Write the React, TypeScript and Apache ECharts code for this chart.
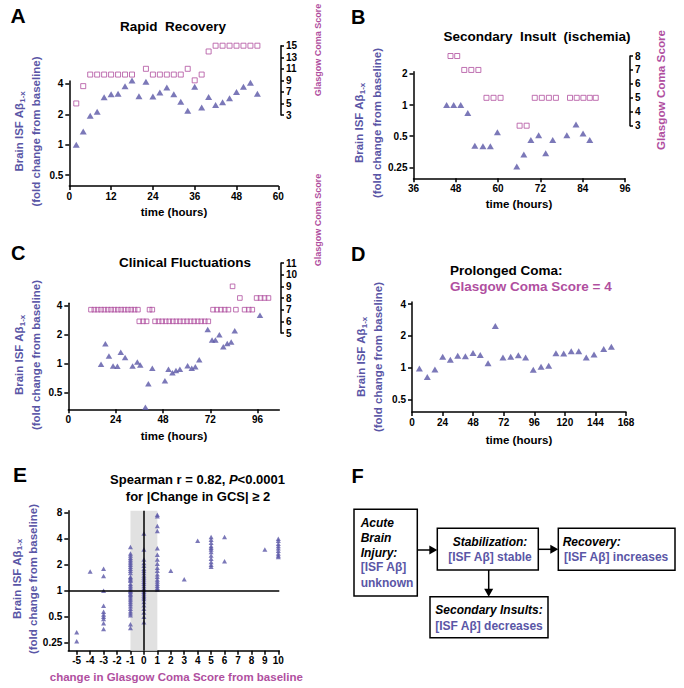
import React, { useEffect, useRef } from 'react';
import * as echarts from 'echarts';

const PURPLE = '#5a56a6';
const MAGENTA = '#b04f9f';
const FONT = '"Liberation Sans", Arial, Helvetica, sans-serif';

// ---------- Panel A: Rapid Recovery ----------
const aTimes = [2, 4, 6, 8, 10, 12, 14, 16, 18, 20, 22, 24, 26, 28, 30, 32, 34, 36, 38, 40, 42, 44, 46, 48, 50, 52, 54];
const aAbeta = [1.0, 1.35, 1.94, 2.12, 2.95, 3.16, 3.2, 3.79, 4.32, 3.02, 4.2, 3.0, 3.3, 3.7, 3.16, 2.67, 2.17, 3.76, 2.33, 2.97, 2.47, 2.64, 2.88, 3.33, 3.76, 4.12, 3.2];
const aGcsTimes = [2, 4, 6, 8, 10, 12, 14, 16, 18, 22, 24, 26, 28, 30, 32, 34, 36, 38, 40, 42, 44, 46, 48, 50, 52, 54];
const aGcs = [5, 8, 10, 10, 10, 10, 10, 10, 10, 11, 10, 10, 10, 10, 10, 11, 9, 10, 14, 15, 15, 15, 15, 15, 15, 15];
const aTimeTicks = [0, 12, 24, 36, 48, 60];
const aAbetaTicks = [0.5, 1, 2, 4];
const aGcsTicks = [3, 5, 7, 9, 11, 13, 15];

// ---------- Panel B: Secondary Insult (ischemia) ----------
const bTimes = [45.4, 47.4, 49.4, 51.4, 53.4, 55.7, 57.8, 59.8, 65.3, 67.3, 69.3, 71.5, 73.5, 75.5, 79.5, 82.1, 84.1, 86];
const bAbeta = [1.0, 1.0, 1.0, 0.84, 0.405, 0.4, 0.4, 0.545, 0.255, 0.332, 0.46, 0.51, 0.342, 0.46, 0.51, 0.65, 0.53, 0.46];
const bGcsTimes = [46.5, 48.4, 50.4, 52.4, 54.4, 56.7, 58.7, 60.7, 66.1, 68.1, 70.4, 72.4, 74.4, 76.4, 80.4, 82.3, 84.2, 86, 87.7];
const bGcs = [8, 8, 7, 7, 7, 5, 5, 5, 3, 3, 5, 5, 5, 5, 5, 5, 5, 5, 5];
const bTimeTicks = [36, 48, 60, 72, 84, 96];
const bAbetaTicks = [0.25, 0.5, 1, 2];
const bGcsTicks = [3, 4, 5, 6, 7, 8];

// ---------- Panel C: Clinical Fluctuations ----------
const cTimes = [16.6, 18.8, 20.6, 22.7, 24.9, 26.6, 28.8, 32.6, 35, 36.5, 39.1, 40.6, 42.6, 49, 50.8, 52.8, 54.6, 56.6, 60.5, 62.6, 64.4, 66.4, 70.7, 72.9, 74.6, 76.6, 78.6, 80.6, 82.6, 84.4, 97.2];
const cAbeta = [0.98, 1.6, 1.19, 0.94, 0.93, 1.3, 1.15, 0.94, 1.03, 0.96, 0.35, 0.615, 0.89, 0.66, 0.866, 0.8, 0.84, 0.87, 0.945, 0.89, 0.92, 1.09, 2.25, 1.75, 1.75, 1.98, 1.49, 1.61, 1.66, 2.18, 3.15];
const cGcsTimes = [
  11.5, 13.2, 14.9, 16.6, 18.3, 20, 21.7, 23.4, 25.1, 26.8, 28.5, 30.2, 31.9, 33.6, 35.3,
  36, 37.9, 39.7, 41.2, 42.6,
  44, 45.8, 47.6, 49.4, 51.2, 53, 54.8, 56.6, 58.4, 60.2, 62, 63.8, 65.6, 67.4, 69.2, 71,
  73.4, 75.4, 77.4, 79.3, 81.2, 83.3, 85, 87, 89.4, 91.5, 93.3, 95.5, 97.5, 99.5, 101.5,
];
const cGcs = [
  7, 7, 7, 7, 7, 7, 7, 7, 7, 7, 7, 7, 7, 7, 7,
  6, 6, 6, 7, 7,
  6, 6, 6, 6, 6, 6, 6, 6, 6, 6, 6, 6, 6, 6, 6, 6,
  7, 7, 7, 7, 7, 9, 7, 8, 7, 7, 7, 8, 8, 8, 8,
];
const cTimeTicks = [0, 24, 48, 72, 96];
const cAbetaTicks = [0.5, 1, 2, 4];
const cGcsTicks = [5, 6, 7, 8, 9, 10, 11];

// ---------- Panel D: Prolonged Coma ----------
const dTimes = [5.8, 12, 18, 24.1, 30.1, 35.9, 41.9, 47.9, 53.6, 59.7, 65.4, 71.4, 77.5, 83.5, 89.2, 95.2, 101.3, 107.3, 113, 119.1, 125, 130.9, 136.8, 142.9, 150.5, 156.5];
const dAbeta = [0.98, 0.815, 0.96, 1.27, 1.19, 1.3, 1.28, 1.38, 1.32, 1.1, 2.49, 1.245, 1.27, 1.31, 1.245, 0.957, 1.02, 1.04, 1.37, 1.36, 1.43, 1.43, 1.245, 1.33, 1.5, 1.58];
const dTimeTicks = [0, 24, 48, 72, 96, 120, 144, 168];
const dAbetaTicks = [0.5, 1, 2, 4];

// ---------- Panel E: change in GCS vs Abeta ----------
const eChange = [-5, -4, -3, -1, 0, 1, 2, 3, 4, 5, 6, 9, 10];
const eAbetaByChange = [
  [0.33, 0.26],
  [1.67],
  [1.8, 1.48, 1.0, 0.67, 0.57, 0.53, 0.5, 0.47, 0.42, 0.36],
  [3.2, 2.7, 2.55, 2.4, 2.3, 2.2, 2.1, 2.0, 1.9, 1.8, 1.7, 1.6, 1.45, 1.4, 1.35, 1.3, 1.2, 1.15, 1.1, 1.05, 1.0, 0.97, 0.93, 0.9, 0.86, 0.82, 0.78, 0.74, 0.7, 0.66, 0.62, 0.58, 0.55, 0.52, 0.41, 0.37],
  [4.6, 3.0, 2.3, 2.1, 1.95, 1.8, 1.7, 1.6, 1.5, 1.42, 1.35, 1.27, 1.2, 1.13, 1.07, 1.02, 0.97, 0.93, 0.88, 0.84, 0.8, 0.74, 0.68, 0.62, 0.56, 0.5, 0.43],
  [7.6, 7.3, 5.6, 4.9, 3.1, 2.6, 2.3, 2.05, 1.85, 1.7, 1.55, 1.45, 1.35, 1.28, 1.2, 1.14, 1.08, 1.03],
  [1.7],
  [1.36],
  [3.8],
  [4.2, 3.9, 3.6, 3.3, 3.15, 3.0, 2.8, 2.55, 2.35, 2.15, 2.0, 1.9],
  [4.2, 2.2],
  [3.0],
  [4.0, 3.8, 3.5, 3.3, 3.1, 2.9, 2.7, 2.55, 2.45],
];
const eChangeTicks = [-5, -4, -3, -2, -1, 0, 1, 2, 3, 4, 5, 6, 7, 8, 9, 10];
const eAbetaTicks = [0.25, 0.5, 1, 2, 4, 8];

// ---------- helpers ----------
const zip = (xs: number[], ys: number[]) => xs.map((x, i) => [x, ys[i]]);
const fmt = (v: number) => String(Number(Number(v).toPrecision(4)));

const axisLine = { show: true, onZero: false, lineStyle: { color: '#000', width: 1.5 } };
const tick = (vals: number[], len = 4) => ({ show: true, inside: false, length: len, lineStyle: { color: '#000', width: 1.5 }, customValues: vals });
const label = (vals: number[], margin: number, size = 10) => ({
  show: true, color: '#000', fontWeight: 'bold', fontSize: size, fontFamily: FONT, margin, customValues: vals,
  formatter: (v: number) => fmt(v),
});

function xAx(grid: number, min: number, max: number, ticks: number[] | null) {
  if (!ticks) return { gridIndex: grid, type: 'value', min, max, show: false };
  return {
    gridIndex: grid, type: 'value', min, max,
    axisLine, axisTick: tick(ticks), axisLabel: label(ticks, 5), splitLine: { show: false },
  };
}
function yLog(grid: number, min: number, max: number, ticks: number[]) {
  return {
    gridIndex: grid, type: 'log', logBase: 2, min, max,
    axisLine, axisTick: tick(ticks), axisLabel: label(ticks, 6), splitLine: { show: false }, minorTick: { show: false },
  };
}
function yGcs(grid: number, min: number, max: number, ticks: number[], offset: number) {
  return {
    gridIndex: grid, type: 'value', position: 'right', offset, min, max,
    axisLine, axisTick: tick(ticks, 3), axisLabel: label(ticks, 5), splitLine: { show: false },
  };
}
function tri(idx: number, data: number[][], size: number[] = [7, 6]) {
  return {
    type: 'scatter', xAxisIndex: idx, yAxisIndex: idx, data, symbol: 'triangle', symbolSize: size,
    itemStyle: { color: PURPLE }, clip: false, silent: true,
  };
}
function sq(idx: number, data: number[][], size = 5) {
  return {
    type: 'scatter', xAxisIndex: idx, yAxisIndex: idx, data, symbol: 'rect', symbolSize: size,
    itemStyle: { color: 'rgba(0,0,0,0)', borderColor: MAGENTA, borderWidth: 1 }, clip: false, silent: true,
  };
}

const font = (size: number, weight = 'bold', italic = false) => `${italic ? 'italic ' : ''}${weight} ${size}px ${FONT}`;
function txt(x: number, y: number, text: string, size: number, o: any = {}) {
  return {
    type: 'text', x, y, rotation: o.rot || 0, silent: true, z: 10,
    style: {
      text, font: font(size, o.weight || 'bold', !!o.italic), fill: o.color || '#000',
      textAlign: o.align || 'center', textVerticalAlign: 'middle',
    },
  };
}
function yTitle(x1: number, x2: number, cy: number, size = 11.5) {
  return [
    {
      type: 'text', x: x1, y: cy, rotation: Math.PI / 2, silent: true, z: 10,
      style: {
        text: '{a|Brain ISF Aβ}{s|1-x}', textAlign: 'center', textVerticalAlign: 'middle',
        rich: {
          a: { font: font(size), fill: PURPLE, lineHeight: 14 },
          s: { font: font(size * 0.7), fill: PURPLE, lineHeight: 6, verticalAlign: 'bottom' },
        },
      },
    },
    txt(x2, cy, '(fold change from baseline)', size, { rot: Math.PI / 2, color: PURPLE }),
  ];
}
function rect(x: number, y: number, w: number, h: number) {
  return { type: 'rect', shape: { x, y, width: w, height: h }, style: { fill: '#fff', stroke: '#000', lineWidth: 1.5 }, silent: true };
}
function arrowR(x1: number, x2: number, y: number) {
  return [
    { type: 'line', shape: { x1, y1: y, x2: x2 - 7, y2: y }, style: { stroke: '#000', lineWidth: 1.5 }, silent: true },
    { type: 'polygon', shape: { points: [[x2 - 8, y - 4.5], [x2, y], [x2 - 8, y + 4.5]] }, style: { fill: '#000' }, silent: true },
  ];
}
function arrowD(x: number, y1: number, y2: number) {
  return [
    { type: 'line', shape: { x1: x, y1, x2: x, y2: y2 - 7 }, style: { stroke: '#000', lineWidth: 1.5 }, silent: true },
    { type: 'polygon', shape: { points: [[x - 4.5, y2 - 8], [x, y2], [x + 4.5, y2 - 8]] }, style: { fill: '#000' }, silent: true },
  ];
}

function buildOption() {
  const eData: number[][] = [];
  eChange.forEach((c, i) => eAbetaByChange[i].forEach((v) => eData.push([c, v])));

  const grid = [
    { left: 69.3, top: 81, width: 209, height: 105 },
    { left: 69.3, top: 45.7, width: 209, height: 69.3 },
    { left: 413.5, top: 71.7, width: 211.5, height: 106.6 },
    { left: 413.5, top: 56, width: 211.5, height: 69.7 },
    { left: 68.3, top: 303.3, width: 211, height: 106 },
    { left: 68.3, top: 263, width: 211, height: 70 },
    { left: 412, top: 302, width: 214, height: 110 },
    { left: 68.3, top: 510.7, width: 211, height: 140 },
  ].map((g) => ({ ...g, containLabel: false, outerBoundsMode: 'none' }));

  const xAxis = [
    xAx(0, 0, 60, aTimeTicks),
    xAx(1, 0, 60, null),
    xAx(2, 36, 96, bTimeTicks),
    xAx(3, 36, 96, null),
    xAx(4, 0, 107, cTimeTicks),
    xAx(5, 0, 107, null),
    xAx(6, 0, 168, dTimeTicks),
    xAx(7, -5.625, 10.074, eChangeTicks),
  ];
  const yAxis = [
    yLog(0, 0.389, 4.28, aAbetaTicks),
    yGcs(1, 3, 15, aGcsTicks, 2.7),
    yLog(2, 0.196, 2.1, bAbetaTicks),
    yGcs(3, 3, 8, bGcsTicks, 5),
    yLog(4, 0.333, 4.2, cAbetaTicks),
    yGcs(5, 5, 11, cGcsTicks, 1.7),
    yLog(6, 0.379, 4.2, dAbetaTicks),
    yLog(7, 0.202, 8.44, eAbetaTicks),
  ];

  const eSeries: any = tri(7, eData, [5, 4.5]);
  eSeries.markArea = {
    silent: true, itemStyle: { color: '#e1e1e1' },
    data: [[{ xAxis: -1 }, { xAxis: 1 }]],
  };
  eSeries.markLine = {
    silent: true, symbol: 'none', label: { show: false },
    lineStyle: { color: '#000', width: 1.5, type: 'solid' },
    data: [{ xAxis: 0 }, { yAxis: 1 }],
  };

  const series = [
    tri(0, zip(aTimes, aAbeta)),
    sq(1, zip(aGcsTimes, aGcs)),
    tri(2, zip(bTimes, bAbeta)),
    sq(3, zip(bGcsTimes, bGcs)),
    tri(4, zip(cTimes, cAbeta), [6.5, 5.5]),
    sq(5, zip(cGcsTimes, cGcs), 4.6),
    tri(6, zip(dTimes, dAbeta)),
    eSeries,
  ];

  const graphic: any[] = [
    // panel letters
    txt(18, 15.8, 'A', 21), txt(358.3, 17, 'B', 20), txt(18.3, 253, 'C', 20),
    txt(358.3, 253.7, 'D', 20), txt(20, 474.5, 'E', 21), txt(357.5, 476, 'F', 20),
    // titles
    txt(173, 26, 'Rapid  Recovery', 13.5),
    txt(537, 36.7, 'Secondary  Insult  (ischemia)', 13.5),
    txt(185, 262.7, 'Clinical Fluctuations', 13.5),
    txt(450, 270.7, 'Prolonged Coma:', 13.5, { align: 'left' }),
    txt(450, 286, 'Glasgow Coma Score = 4', 13.5, { align: 'left', color: MAGENTA }),
    {
      type: 'text', x: 197.5, y: 479.3, silent: true, z: 10,
      style: {
        text: '{b|Spearman r = 0.82, }{i|P}{b|<0.0001}', textAlign: 'center', textVerticalAlign: 'middle',
        rich: { b: { font: font(13), fill: '#000' }, i: { font: font(13, 'bold', true), fill: '#000' } },
      },
    },
    txt(198, 496.7, 'for |Change in GCS| ≥ 2', 13),
    // x titles
    txt(174, 211.7, 'time (hours)', 11.5),
    txt(519, 204.3, 'time (hours)', 11.5),
    txt(174, 435.7, 'time (hours)', 11.5),
    txt(519, 440, 'time (hours)', 11.5),
    txt(176.3, 676.7, 'change in Glasgow Coma Score from baseline', 11.5, { color: MAGENTA }),
    // right titles
    txt(318, 50, 'Glasgow Coma Score', 9, { rot: Math.PI / 2, color: MAGENTA }),
    txt(660, 90, 'Glasgow Coma Score', 11.7, { rot: Math.PI / 2, color: MAGENTA }),
    txt(318, 220, 'Glasgow Coma Score', 9, { rot: Math.PI / 2, color: MAGENTA }),
    // left titles
    ...yTitle(19, 36, 131.5),
    ...yTitle(359, 376.7, 123),
    ...yTitle(19, 36, 355),
    ...yTitle(361, 377.5, 357),
    ...yTitle(16.7, 33.3, 579),
    // panel F diagram
    rect(354, 509.3, 63.3, 86.7),
    txt(360.7, 523.3, 'Acute', 12, { align: 'left', italic: true }),
    txt(360.7, 538.3, 'Brain', 12, { align: 'left', italic: true }),
    txt(360.7, 552.7, 'Injury:', 12, { align: 'left', italic: true }),
    txt(360.7, 567.3, '[ISF Aβ]', 12, { align: 'left', color: PURPLE }),
    txt(360.7, 582.7, 'unknown', 12, { align: 'left', color: PURPLE }),
    ...arrowR(417.3, 437.3, 550),
    rect(437.3, 528.3, 101, 41.7),
    txt(490, 541.7, 'Stabilization:', 12, { italic: true }),
    txt(490, 557.3, '[ISF Aβ] stable', 12, { color: PURPLE }),
    ...arrowR(538.3, 558.3, 549.3),
    rect(558.3, 528.3, 116.7, 42),
    txt(562.7, 542.3, 'Recovery:', 12, { align: 'left', italic: true }),
    txt(564, 557.3, '[ISF Aβ] increases', 12, { align: 'left', color: PURPLE }),
    ...arrowD(488.7, 570, 596.7),
    rect(430, 596.7, 118, 41),
    txt(489, 610, 'Secondary Insults:', 12, { italic: true }),
    txt(489, 626, '[ISF Aβ] decreases', 12, { color: PURPLE }),
  ];

  return {
    animation: false,
    backgroundColor: '#fff',
    textStyle: { fontFamily: FONT },
    grid, xAxis, yAxis, series, graphic,
  };
}

export default function App() {
  const ref = useRef<HTMLDivElement>(null);
  useEffect(() => {
    const chart = echarts.init(ref.current!, null, { renderer: 'svg' });
    chart.setOption(buildOption() as any);
    return () => chart.dispose();
  }, []);
  return <div ref={ref} style={{ position: 'absolute', left: 0, top: 0, width: 684, height: 688 }} />;
}
